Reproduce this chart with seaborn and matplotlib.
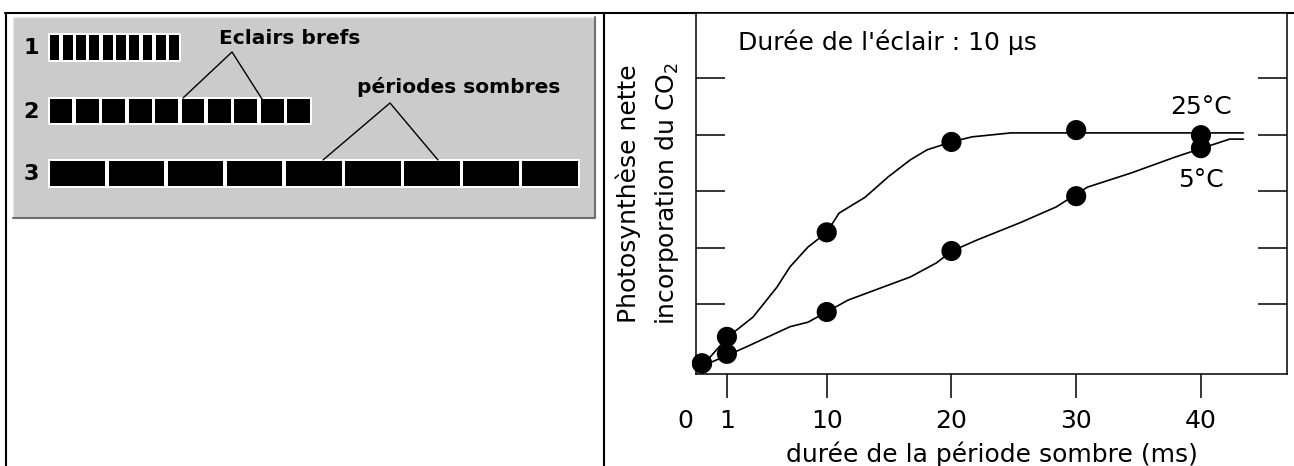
import numpy as np
import pandas as pd
import seaborn as sns
import matplotlib.pyplot as plt
from matplotlib.patches import Rectangle
from matplotlib.transforms import ScaledTranslation

# ############### Data ###############
dark_ms = [0, 1, 10, 20, 30, 40]
co2_25 = [-0.05, 0.42, 2.27, 3.87, 4.08, 3.99]
co2_5 = [-0.05, 0.12, 0.86, 1.94, 2.91, 3.76]

# hand-drawn curves through the points
curve25_x = [0, 1.09, 3.35, 5.51, 6.69, 8.31, 9.49, 10, 10.99, 13.07, 14.92, 16.68,
             18.04, 20, 21.65, 24.78, 30, 40, 43.4]
curve25_y = [-0.1, 0.42, 0.77, 1.30, 1.66, 2.01, 2.19, 2.27, 2.61, 2.89, 3.25, 3.55,
             3.73, 3.87, 3.96, 4.03, 4.03, 4.03, 4.03]
curve5_x = [0, 1.09, 2.72, 4.70, 6.69, 8.31, 10, 11.7, 14.5, 16.7, 18.8, 20.05, 22.0,
            25.5, 28.4, 29.75, 30.9, 34.4, 37.9, 40.1, 42.3, 43.4]
curve5_y = [-0.1, 0.10, 0.24, 0.42, 0.60, 0.68, 0.86, 1.07, 1.30, 1.48, 1.73, 1.94, 2.13,
            2.44, 2.72, 2.91, 3.07, 3.32, 3.60, 3.76, 3.92, 3.92]

xtick_vals = [0, 1, 10, 20, 30, 40]
ytick_vals = [1, 2, 3, 4, 5]

# left diagram: rows of flashes / dark periods
row_labels = ['1', '2', '3']
n_dark = [10, 10, 9]

# ############### Style ###############
sns.set_style('white')
plt.rcParams['font.family'] = ['DejaVu Sans']
plt.rcParams['text.color'] = 'black'
plt.rcParams['axes.labelcolor'] = 'black'
plt.rcParams['axes.edgecolor'] = 'black'
plt.rcParams['xtick.color'] = 'black'
plt.rcParams['ytick.color'] = 'black'

W, H = 1294, 466
fig = plt.figure(figsize=(W / 100, H / 100), dpi=100)

# ############### Left panel: schematic ###############
dg = fig.add_axes([0, 0, 1, 1])
dg.set_xlim(0, W)
dg.set_ylim(H, 0)
dg.axis('off')

# frame lines of the whole figure
dg.plot([5, W], [13, 13], color='black', lw=1.5)
dg.plot([5.5, 5.5], [13, H], color='black', lw=1.5)
dg.plot([603.5, 603.5], [13, H], color='black', lw=1.5)

# grey box with a light bevel
dg.add_patch(Rectangle((13, 17), 582, 201, facecolor='#cbcbcb', edgecolor='#e6e6e6', lw=1))
dg.plot([13, 595, 595], [218, 218, 17], color='#707070', lw=1.5)

period_px = [13.3, 26.4, 59.1]
row_y = [(35, 60), (99, 123), (161, 186)]
x_start, gap = 49.5, 3.5
for lab, n, slot, (y0, y1) in zip(row_labels, n_dark, period_px, row_y):
    dg.add_patch(Rectangle((x_start - 2, y0 - 2), n * slot - gap + 4, y1 - y0 + 4,
                           facecolor='white', edgecolor='none'))
    for i in range(n):
        dg.add_patch(Rectangle((x_start + i * slot, y0), slot - gap, y1 - y0,
                               facecolor='black', edgecolor='none'))
    dg.text(31, (y0 + y1) / 2 + 1, lab, fontsize=16, fontweight='bold', ha='center', va='center')

dg.text(290, 38, 'Eclairs brefs', fontsize=14.5, fontweight='bold', ha='center', va='center')
dg.plot([183, 232, 262], [98, 52, 99], color='black', lw=1)
dg.text(459, 87, 'périodes sombres', fontsize=14.5, fontweight='bold', ha='center', va='center')
dg.plot([323, 390, 438], [160, 103, 160], color='black', lw=1)

# ############### Right panel: graph ###############
ax = fig.add_axes([696 / W, (H - 374) / H, 591 / W, 361 / H])

# broken x scale: 0-1 ms is stretched like in the original drawing
scale_x = [-5, 0, 1, 10, 100]
scale_f = [-10, 0, 2, 10, 100]
ax.set_xscale('function', functions=(lambda x: np.interp(x, scale_x, scale_f),
                                      lambda f: np.interp(f, scale_f, scale_x)))

curves = pd.concat([
    pd.DataFrame({'x': curve25_x, 'y': curve25_y, 'temp': '25°C'}),
    pd.DataFrame({'x': curve5_x, 'y': curve5_y, 'temp': '5°C'}),
])
points = pd.concat([
    pd.DataFrame({'x': dark_ms, 'y': co2_25, 'temp': '25°C'}),
    pd.DataFrame({'x': dark_ms, 'y': co2_5, 'temp': '5°C'}),
])

sns.lineplot(data=curves, x='x', y='y', hue='temp', palette=['black', 'black'],
             estimator=None, sort=False, legend=False, lw=1.2, ax=ax)
sns.scatterplot(data=points, x='x', y='y', color='black', s=210, edgecolor='none',
                legend=False, clip_on=False, zorder=3, ax=ax)

ax.set_xlim(-0.24, 46.9)
ax.set_ylim(-0.237, 6.152)

for sp in ax.spines.values():
    sp.set_visible(True)
    sp.set_linewidth(1.1)

ax.set_xticks(xtick_vals)
ax.set_xticklabels([str(v) for v in xtick_vals])
ax.set_yticks(ytick_vals)
ax.tick_params(axis='x', direction='out', length=17, width=1.1, pad=8, labelsize=18,
               bottom=True)
ax.tick_params(axis='y', direction='in', length=21, width=1.1, left=True, right=True,
               labelleft=False, labelright=False)
ax.minorticks_off()

t0 = ax.xaxis.get_major_ticks()[0]
t0.tick1line.set_visible(False)
t0.label1.set_transform(t0.label1.get_transform() +
                        ScaledTranslation(-0.17, 0, fig.dpi_scale_trans))

ax.set_xlabel('durée de la période sombre (ms)', fontsize=18, labelpad=6)
ax.set_ylabel('Photosynthèse nette\nincorporation du CO$_2$', fontsize=18,
              labelpad=11, linespacing=1.55)

ax.text(0.071, 0.92, "Durée de l'éclair : 10 µs", transform=ax.transAxes,
        fontsize=18, ha='left', va='center')
ax.text(40, 4.49, '25°C', fontsize=18, ha='center', va='center')
ax.text(40, 3.2, '5°C', fontsize=18, ha='center', va='center')

fig.savefig('out.png', dpi=100)
